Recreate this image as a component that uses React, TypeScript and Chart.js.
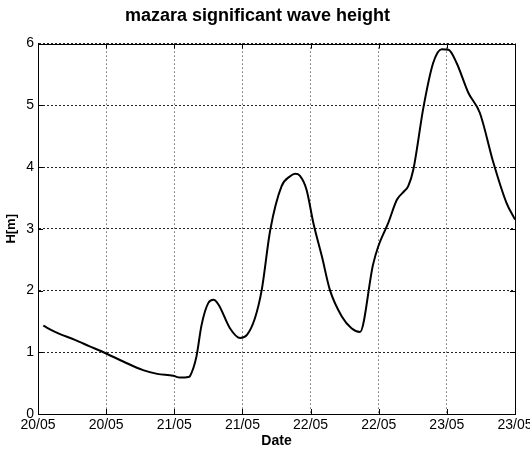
import React, { useEffect, useRef } from "react";
import { Chart, registerables } from "chart.js";

Chart.register(...registerables);

const chartTitle = "mazara significant wave height";
const xAxisTitle = "Date";
const yAxisTitle = "H[m]";

// hours since 20/05 00:00
const hours = [
  0.93, 3, 6.5, 9, 12, 15, 18.5, 21, 23.8, 25, 26.5, 26.8, 27.9, 28.8, 30, 30.9,
  31.8, 33.8, 35.6, 36.8, 38.2, 39.4, 40.9, 42.9, 44.4, 45.3, 46.1, 47.3, 48.5,
  50, 51.4, 53.5, 55.2, 56.7, 59.0, 59.9, 61.7, 63.2, 64.4, 65.2, 66.1, 67.9,
  69.6, 71.1, 72.3, 73.7, 75.8, 77.8, 80.2, 82.5, 84,
];
const heights = [
  1.43, 1.33, 1.2, 1.1, 0.98, 0.85, 0.71, 0.65, 0.62, 0.59, 0.6, 0.62, 0.93, 1.44,
  1.8, 1.85, 1.77, 1.39, 1.23, 1.28, 1.55, 2.01, 2.98, 3.69, 3.85, 3.89, 3.86,
  3.63, 3.09, 2.55, 2.01, 1.58, 1.39, 1.33, 2.42, 2.71, 3.1, 3.47, 3.6, 3.69,
  3.96, 4.98, 5.69, 5.91, 5.9, 5.69, 5.2, 4.88, 4.07, 3.42, 3.15,
];

const xTickHours = [0, 12, 24, 36, 48, 60, 72, 84];
const xTickLabels = ["20/05", "20/05", "21/05", "21/05", "22/05", "22/05", "23/05", "23/05"];
const yTicks = [0, 1, 2, 3, 4, 5, 6];

const FONT = "'Liberation Sans', Arial, Helvetica, sans-serif";

const boxPlugin = {
  id: "boxPlugin",
  afterDraw(chart: any) {
    const { ctx, chartArea } = chart;
    const { left, right, top, bottom } = chartArea;
    const xs = chart.scales.x;
    const ys = chart.scales.y;
    ctx.save();
    ctx.strokeStyle = "#000";
    ctx.lineWidth = 1;
    ctx.setLineDash([]);
    ctx.strokeRect(Math.round(left) + 0.5, Math.round(top) + 0.5, Math.round(right - left), Math.round(bottom - top));
    const tl = 5;
    ctx.beginPath();
    xTickHours.forEach((h) => {
      const px = Math.round(xs.getPixelForValue(h)) + 0.5;
      ctx.moveTo(px, bottom);
      ctx.lineTo(px, bottom - tl);
      ctx.moveTo(px, top);
      ctx.lineTo(px, top + tl);
    });
    yTicks.forEach((v) => {
      const py = Math.round(ys.getPixelForValue(v)) + 0.5;
      ctx.moveTo(left, py);
      ctx.lineTo(left + tl, py);
      ctx.moveTo(right, py);
      ctx.lineTo(right - tl, py);
    });
    ctx.stroke();
    ctx.restore();
  },
};

export default function App() {
  const ref = useRef<HTMLCanvasElement>(null);
  useEffect(() => {
    if (!ref.current) return;
    const chart = new Chart(ref.current, {
      type: "line",
      data: {
        datasets: [
          {
            data: hours.map((h, i) => ({ x: h, y: heights[i] })),
            borderColor: "#000",
            borderWidth: 2,
            pointRadius: 0,
            cubicInterpolationMode: "monotone",
            fill: false,
          },
        ],
      },
      options: {
        responsive: false,
        animation: false,
        layout: { padding: { left: 0, right: 15, top: 0, bottom: 0 } },
        plugins: {
          legend: { display: false },
          tooltip: { enabled: false },
          title: {
            display: true,
            text: chartTitle,
            color: "#000",
            font: { family: FONT, size: 18, weight: "bold" },
            padding: { top: 5, bottom: 17 },
          },
        },
        scales: {
          x: {
            type: "linear",
            min: 0,
            max: 84,
            afterBuildTicks: (scale: any) => {
              scale.ticks = xTickHours.map((v) => ({ value: v }));
            },
            afterFit: (scale: any) => {
              scale.height = 37;
              scale.paddingLeft = 0;
              scale.paddingRight = 0;
            },
            ticks: {
              autoSkip: false,
              maxRotation: 0,
              color: "#000",
              padding: 3,
              font: { family: FONT, size: 14 },
              callback: (value: any) => {
                const i = xTickHours.indexOf(Number(value));
                return i >= 0 ? xTickLabels[i] : "";
              },
            },
            grid: {
              color: "#222",
              lineWidth: 1,
              drawTicks: false,
            },
            border: { display: true, color: "#000", dash: [1, 3] },
            title: {
              display: true,
              text: xAxisTitle,
              color: "#000",
              font: { family: FONT, size: 14, weight: "bold" },
              padding: { top: 0, bottom: 1 },
            },
          },
          y: {
            min: 0,
            max: 6,
            afterBuildTicks: (scale: any) => {
              scale.ticks = yTicks.map((v) => ({ value: v }));
            },
            afterFit: (scale: any) => {
              scale.width = 38;
              scale.paddingTop = 0;
              scale.paddingBottom = 0;
            },
            ticks: {
              color: "#000",
              padding: 4,
              font: { family: FONT, size: 14 },
            },
            grid: {
              color: "#222",
              lineWidth: 1,
              drawTicks: false,
            },
            border: { display: true, color: "#000", dash: [2, 2] },
            title: {
              display: true,
              text: yAxisTitle,
              color: "#000",
              font: { family: FONT, size: 13, weight: "bold" },
              padding: { top: 4, bottom: 0 },
            },
          },
        },
      } as any,
      plugins: [boxPlugin],
    });
    return () => chart.destroy();
  }, []);
  return (
    <div style={{ position: "absolute", left: 0, top: 0, width: 530, height: 451, background: "#fff" }}>
      <canvas ref={ref} width={530} height={451} />
    </div>
  );
}
